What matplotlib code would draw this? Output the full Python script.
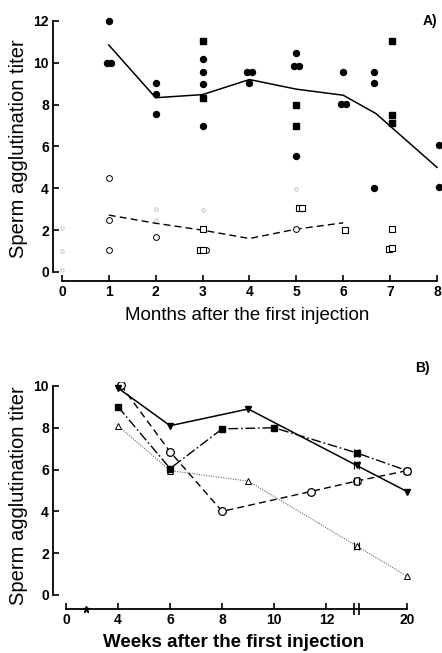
import numpy as np
import matplotlib
matplotlib.use("Agg")
import matplotlib.pyplot as plt

plt.rcParams['font.family'] = ['Liberation Sans', 'DejaVu Sans']

# ---- panel A: months ----
months_ticks = [0, 1, 2, 3, 4, 5, 6, 7, 8]
titer_ticks_a = [0, 2, 4, 6, 8, 10, 12]

fc_x = [1, 0.97, 1.04, 2, 2, 2, 3, 3, 3, 3, 3.95, 4.05, 4, 5, 4.95, 5.05, 5,
        6, 5.95, 6.05, 6.65, 6.65, 6.65, 8.04, 8.04]
fc_y = [12, 10, 10, 9.05, 8.5, 7.57, 10.2, 9.55, 9.0, 7.0, 9.55, 9.55, 9.05,
        10.45, 9.85, 9.85, 5.55, 9.55, 8.05, 8.05, 9.55, 9.05, 4.0, 6.05, 4.05]
fs_x = [3, 3, 5, 5, 7.03, 7.05, 7.05]
fs_y = [11.05, 8.3, 8.0, 7.0, 11.05, 7.5, 7.1]

oc_x = [1, 1, 1, 2, 3.07, 5]
oc_y = [4.5, 2.5, 1.05, 1.67, 1.05, 2.05]
os_x = [3, 2.95, 3.0, 5.05, 5.12, 6.03, 7.03, 6.97, 7.05]
os_y = [2.05, 1.05, 1.05, 3.05, 3.05, 2.0, 2.05, 1.1, 1.15]
faint_x = [0, 0, 0, 2, 2, 3, 5]
faint_y = [2.1, 1.0, 0.1, 3.0, 2.5, 2.95, 3.95]

mean_hi_x = [1, 2, 3, 4, 5, 6, 6.7, 8]
mean_hi_y = [10.85, 8.33, 8.48, 9.2, 8.74, 8.45, 7.57, 5.0]
mean_lo_x = [1, 2, 3, 4, 5, 6]
mean_lo_y = [2.72, 2.33, 2.0, 1.6, 2.05, 2.35]

# ---- panel B: weeks ----
week_ticks = [0, 4, 6, 8, 10, 12, 20]
titer_ticks_b = [0, 2, 4, 6, 8, 10]
break_week = 15
star_week = 1.5

s1_w = [4, 6, 9, 15, 20]
s1_y = [9.9, 8.1, 8.9, 6.2, 4.95]
s2_w = [4.1, 6, 8, 11.4, 15, 20]
s2_y = [10.05, 6.85, 4.0, 4.95, 5.45, 5.95]
s3_w = [4, 6, 8, 10, 15, 20]
s3_y = [9.0, 6.05, 7.95, 8.0, 6.8, 5.95]
s4_w = [4, 6, 9, 15, 20]
s4_y = [8.1, 5.95, 5.45, 2.35, 0.9]


def pos(w):
    # broken axis: 0-4 compressed, 12-20 compressed
    return np.interp(w, [0, 4, 12, 20], [0, 2, 10, 13.1])


fig = plt.figure(figsize=(4.42, 6.53), dpi=100)

tick_font = dict(fontsize=10, fontweight='bold')

# ---------- A ----------
ax = fig.add_axes([0.1199, 0.5697, 0.8794, 0.4046])
ax.set_xlim(-0.19, 8.1)
ax.set_ylim(-0.43, 12.2)
for s in ['top', 'right']:
    ax.spines[s].set_visible(False)
ax.spines['left'].set_bounds(0, 12)
ax.spines['bottom'].set_bounds(0, 8)
ax.spines['left'].set_linewidth(1.3)
ax.spines['bottom'].set_linewidth(1.3)
ax.set_xticks(months_ticks)
ax.set_yticks(titer_ticks_a)
ax.set_xticklabels([str(m) for m in months_ticks], **tick_font)
ax.set_yticklabels([str(t) for t in titer_ticks_a], **tick_font)
ax.tick_params(direction='in', length=4, width=1.2, pad=3)

ax.plot(mean_hi_x, mean_hi_y, color='black', lw=1.1)
ax.plot(mean_lo_x, mean_lo_y, color='black', lw=1.0, dashes=(5, 3))
ax.plot(fc_x, fc_y, 'o', color='black', ms=4.3, clip_on=False)
ax.plot(fs_x, fs_y, 's', color='black', ms=3.8, clip_on=False)
ax.plot(oc_x, oc_y, 'o', mfc='white', mec='black', mew=0.7, ms=4.2)
ax.plot(os_x, os_y, 's', mfc='white', mec='black', mew=0.8, ms=3.8)
ax.plot(faint_x, faint_y, 'o', mfc='none', mec='#bbbbbb', mew=0.6, ms=2.5,
        clip_on=False)

ax.set_ylabel('Sperm agglutination titer', fontsize=14.5, labelpad=4)
ax.set_xlabel('Months after the first injection', fontsize=13.5, labelpad=6)
ax.text(0.97, 0.985, 'A)', transform=ax.transAxes, fontsize=10,
        fontweight='bold', ha='center', va='center')

# ---------- B ----------
bx = fig.add_axes([0.1199, 0.0674, 0.8186, 0.3479])
bx.set_xlim(-0.5, 13.4)
bx.set_ylim(-0.67, 10.2)
for s in ['top', 'right']:
    bx.spines[s].set_visible(False)
bx.spines['left'].set_bounds(0, 10)
bx.spines['bottom'].set_bounds(0, pos(20))
bx.spines['left'].set_linewidth(1.3)
bx.spines['bottom'].set_linewidth(1.3)
bx.set_xticks(pos(week_ticks))
bx.set_yticks(titer_ticks_b)
bx.set_xticklabels([str(w) for w in week_ticks], **tick_font)
bx.set_yticklabels([str(t) for t in titer_ticks_b], **tick_font)
bx.tick_params(direction='in', length=4, width=1.2, pad=3)

bx.plot(pos(s4_w), s4_y, color='#666666', lw=0.8, ls=(0, (1, 1.2)),
        marker='^', mfc='white', mec='black', mew=0.7, ms=4.2)
bx.plot(pos(s3_w), s3_y, color='black', lw=1.0, dashes=(7, 2, 1.2, 2),
        marker='s', ms=3.8)
bx.plot(pos(s2_w), s2_y, color='black', lw=1.0, dashes=(5, 3),
        marker='o', mfc='white', mec='black', mew=0.9, ms=5.5)
bx.plot(pos(s1_w), s1_y, color='black', lw=1.1, marker='v', ms=4)

# break marks on lines and on the axis
bp = pos(break_week)
for sw, sy in [(s1_w, s1_y), (s2_w, s2_y), (s3_w, s3_y), (s4_w, s4_y)]:
    yb = sy[sw.index(break_week)]
    bx.plot([bp - 0.08, bp + 0.08], [yb, yb], ls='none', marker='|',
            color='black', ms=6, mew=0.8)
ylo = bx.get_ylim()[0]
bx.plot([bp - 0.09, bp + 0.09], [ylo, ylo], ls='none', marker='|',
        color='black', ms=8, mew=1.2, clip_on=False)
bx.plot([pos(star_week)], [ylo], ls='none', marker='*', color='black',
        ms=5, clip_on=False)

bx.set_ylabel('Sperm agglutination titer', fontsize=14.5, labelpad=4)
bx.set_xlabel('Weeks after the first injection', fontsize=13.5,
              fontweight='bold', labelpad=5)
bx.text(1.02, 1.06, 'B)', transform=bx.transAxes, fontsize=10,
        fontweight='bold', ha='center', va='center')

fig.savefig('out.png', dpi=100)
